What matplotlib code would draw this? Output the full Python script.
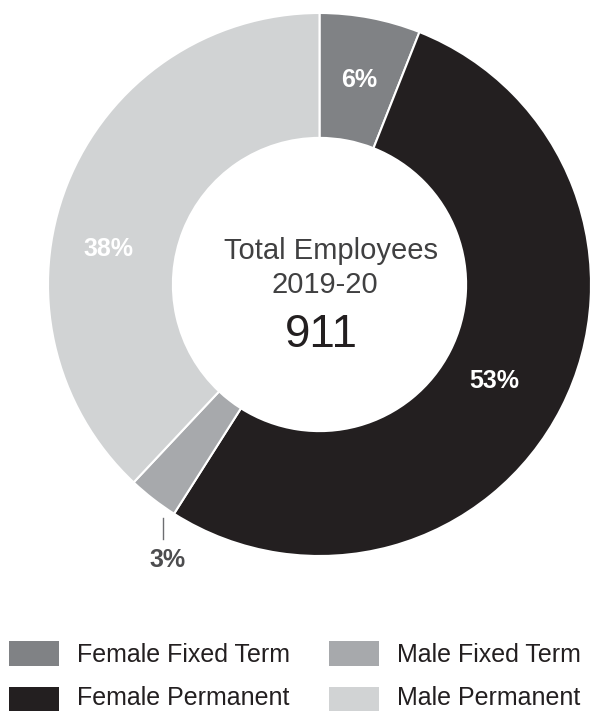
import matplotlib.pyplot as plt
from matplotlib.patches import Rectangle

plt.rcParams['font.family'] = ['Liberation Sans', 'DejaVu Sans']

# employee mix, percent of total headcount
categories = ["Female Fixed Term", "Female Permanent", "Male Fixed Term", "Male Permanent"]
shares = [6, 53, 3, 38]
colors = ["#808285", "#231f20", "#a7a9ac", "#d1d3d4"]
total_employees = 911
period = "2019-20"

W, H = 590, 711
CX, CY, R = 319.5, 284.5, 271.5   # donut centre / radius in pixels


def px(x, y):
    """pixel (from top-left) -> figure fraction"""
    return x / W, 1 - y / H


fig = plt.figure(figsize=(W / 100, H / 100), dpi=100)
ax = fig.add_axes([(CX - R) / W, (H - CY - R) / H, 2 * R / W, 2 * R / H])

wedges, _ = ax.pie(shares, colors=colors, startangle=90, counterclock=False,
                   radius=1, wedgeprops=dict(width=0.46, edgecolor="white", linewidth=1.5))
ax.set_xlim(-1, 1)
ax.set_ylim(-1, 1)
ax.set_aspect("equal")
ax.axis("off")

# percentage labels (x, y in axes data units)
label_pos = [(0.145, 0.755), (0.643, -0.355), (-0.56, -1.014), (-0.777, 0.13)]
label_col = ["white", "white", "#4d4d4f", "white"]
for val, (x, y), c in zip(shares, label_pos, label_col):
    ax.text(x, y, f"{val}%", ha="center", va="center", fontsize=18,
            fontweight="bold", color=c)

# leader line for the small slice
ax.plot([-0.576, -0.576], [-0.86, -0.937], color="#6d6e71", lw=1, clip_on=False)

# centre text
ax.text(0.044, 0.094, "Total Employees", ha="center", va="baseline",
        fontsize=21, color="#404041")
ax.text(0.02, -0.031, period, ha="center", va="baseline",
        fontsize=21, color="#404041")
ax.text(0.006, -0.23, str(total_employees), ha="center", va="baseline",
        fontsize=33, color="#231f20")

# legend, two columns
box_x = [9, 329]
text_x = [77, 397]
row_top = [641, 687]
text_base = [662, 705]
for i, (name, c) in enumerate(zip(categories, colors)):
    col, row = i // 2, i % 2
    x0, y0 = px(box_x[col], row_top[row] + 25)
    fig.add_artist(Rectangle((x0, y0), 50 / W, 25 / H, transform=fig.transFigure,
                             facecolor=c, edgecolor="none"))
    tx, ty = px(text_x[col], text_base[row])
    fig.text(tx, ty, name, ha="left", va="baseline", fontsize=18, color="#231f20")

fig.savefig("out.png", dpi=100)
